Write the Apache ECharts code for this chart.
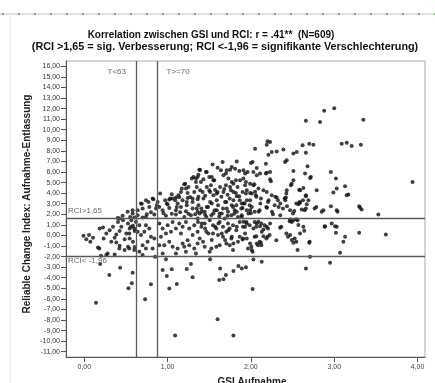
<!DOCTYPE html>
<html><head><meta charset="utf-8">
<script src="https://cdn.jsdelivr.net/npm/echarts@6/dist/echarts.min.js"></script>
<style>html,body{margin:0;padding:0;background:#fff}#c{width:435px;height:383px}</style>
</head><body><div id="c"></div>
<script>
const titleLine1 = 'Korrelation zwischen GSI und RCI: r = .41**  (N=609)';
const titleLine2 = '(RCI >1,65 = sig. Verbesserung; RCI <-1,96 = signifikante Verschlechterung)';
const xName = 'GSI Aufnahme';
const yName = 'Reliable Change Index: Aufnahme-Entlassung';
const xTicks = [0, 1, 2, 3, 4];
const yTicks = [-11,-10,-9,-8,-7,-6,-5,-4,-3,-2,-1,0,1,2,3,4,5,6,7,8,9,10,11,12,13,14,15,16];
const xRange = [-0.22, 4.09];
const yRange = [-11.5, 16.5];
const tCutoffs = [0.62, 0.88];
const tLabels = ['T<63', 'T>=70'];
const rciCutoffs = [1.65, -1.96];
const rciLabels = ['RCI>1,65', 'RCI< -1,96'];

const pointsHigh = [
[2.05,8.2],[2.02,6.94],[2.00,6.85],[1.83,7.0],[1.66,6.94],[1.54,6.7],[1.39,6.2],[1.47,6.0],[1.60,6.4],[1.64,6.16],[1.71,6.16],[1.77,6.47],[1.81,6.3],[1.91,6.16],[1.93,5.85],[1.96,6.0],[2.03,6.0],[2.07,5.69],[1.31,5.53],[1.37,5.75],[1.43,5.31],[1.34,5.38],[1.40,5.06],[1.53,5.53],[1.55,5.22],[1.67,5.69],[1.73,5.38],[1.77,5.06],[1.75,4.58],[1.70,4.75],[1.79,4.9],[1.87,5.22],[1.93,4.75],[1.99,4.9],[1.91,5.38],[1.21,4.9],[1.25,4.58],[1.17,4.43],[1.35,4.58],[1.39,4.27],[1.47,4.58],[1.51,4.11],[1.52,4.75],[1.63,4.58],[1.67,4.11],[1.59,3.96],[1.79,4.11],[1.95,4.27],[2.01,3.96],[1.84,4.58],
[2.66,10.85],[2.83,10.72],[3.00,12.04],[2.88,11.79],[3.35,10.94],[2.19,8.58],[2.23,8.83],[2.20,8.92],[2.25,7.89],[2.21,7.64],[2.31,7.95],[2.39,8.14],[2.62,8.52],[2.70,8.68],[2.75,8.58],[3.09,8.68],[3.15,8.77],[3.21,8.45],[3.32,8.58],[2.51,7.74],[2.55,7.89],[2.66,7.83],[2.43,7.1],[2.41,6.94],[2.18,6.79],[2.07,6.38],[2.11,5.85],[2.19,5.94],[2.23,5.31],[2.24,5.12],[2.51,6.09],[2.65,5.85],[2.71,5.43],[2.68,6.54],[2.96,6.0],[3.02,5.38],[2.03,4.75],[2.09,4.43],[2.15,4.27],[2.19,4.11],[2.49,4.9],[2.51,5.22],[2.43,4.27],[2.59,4.27],[2.63,4.49],[2.79,4.27],[3.03,4.43],[3.13,4.65],[2.99,4.06],[3.94,5.06],[1.86,6.09],[1.75,6.22],[1.38,6.22],[1.46,6.0],[1.50,5.53],[1.56,5.22],[1.70,5.85],[1.82,5.22],[1.94,5.06],[2.18,5.85],[2.23,6.0],[2.72,5.53],[2.48,4.75],[2.04,4.84],[2.58,4.33],[1.42,4.11],[1.50,4.27],[1.60,4.11],[1.76,4.27],[1.82,4.02],[1.86,3.71],[1.94,3.96],[1.99,4.02],[2.06,3.8],[2.12,3.49],[2.25,3.8],[2.31,3.58],[2.42,3.58],[2.66,3.71],[3.15,3.8],[3.17,3.87],
[0.91,3.96],[0.83,3.42],[0.77,3.17],[0.69,3.0],[1.13,3.8],[1.09,3.33],[1.03,3.49],[0.97,3.33],[1.27,3.64],[1.23,3.17],[1.02,3.4],[1.10,3.58],[1.16,4.11],[1.20,4.84],[1.22,4.43],[1.29,5.38],[1.36,5.53],[1.34,5.06],[1.24,4.02],[1.32,4.11],[1.30,3.49],
[2.425,3.96],[2.413,3.33],[2.293,3.65],[2.05,4.12],[2.66,3.8],[2.69,3.33],[2.625,3.33],[2.065,3.65],[1.37,3.65],[1.43,3.49],[1.55,3.80],[1.645,3.65],[1.745,3.49],[2.405,3.49],
[1.05,3.9],[1.14,3.6],[1.45,3.75],[1.57,4.3],[1.68,4.4],[1.72,3.85],[1.83,3.7],[1.90,4.1]
];

const pointsBand = [
[0.68,3.02],[0.74,3.33],[0.82,3.49],[0.88,3.17],[1.00,2.92],[1.06,3.49],[1.12,3.02],[1.18,3.33],[1.24,3.55],[1.30,3.17],[1.36,3.42],[0.64,2.39],[0.70,2.55],[0.78,2.7],[0.86,2.55],[0.94,2.39],[1.02,2.6],[1.10,2.39],[1.16,2.7],[1.22,2.29],[1.30,2.55],[1.36,2.23],[0.58,2.08],[0.52,2.23],[0.46,1.85],[0.40,1.66],
[0.58,2.39],[0.87,2.86],[0.99,3.02],[1.11,2.70],[1.23,2.86],[1.35,2.54],[1.41,2.23],[1.47,2.70],[1.53,3.02],[1.59,2.39],[1.65,2.07],[1.71,2.54],[1.77,2.86],[1.83,2.23],[1.89,1.91],[1.95,2.39],[2.01,2.70],
[1.51,3.17],[1.59,3.33],[1.69,3.17],[1.79,3.33],[1.89,3.02],[1.99,3.33],
[0.64,1.91],[0.74,1.75],[0.84,1.97],[0.98,1.85],[1.10,1.97],[1.20,1.75],[1.28,1.91],[1.36,1.60],
[0.95,2.1],[1.05,2.05],[1.15,2.2],[1.25,2.05],[1.33,2.0],[1.45,1.95],[1.55,2.1],[1.62,1.8],[1.72,1.85],[1.80,2.05],[1.90,2.6],[2.00,2.1],[0.80,2.2],[0.90,2.7],[0.75,2.0],[0.70,1.7],[0.60,1.7],[0.55,1.75],
[0.62,1.28],[0.66,0.97],[0.60,0.66],[0.64,0.34],[0.68,0.03],[0.56,0.82],[0.54,0.19],[0.74,0.97],[0.78,0.66],[0.72,0.34],[0.80,-0.13],[0.76,-0.60],[0.84,-0.29],[0.90,1.13],[0.94,0.66],[0.98,0.19],[0.92,-0.13],[1.00,0.97],[1.06,1.28],[1.10,0.66],[1.04,0.34],[1.14,1.13],[1.18,0.82],[1.16,0.19],[1.22,1.28],[1.26,0.66],[1.32,0.97],[1.36,0.34],[1.30,0.03],[1.24,-0.45],[1.18,-0.76],[1.12,-1.23],[1.20,-1.07],[1.26,-0.92],[1.32,-1.23],[1.36,-0.76],[1.02,-0.60],[0.96,-0.92],[1.06,-1.07],[0.90,-0.92],[0.82,-1.23],[0.74,-1.23],[0.70,-0.92],[0.66,-1.55],[0.60,-1.39],[0.54,-1.23],[0.42,-1.23],[0.28,-1.70],[0.18,-1.23],[0.70,-1.86],[0.94,-1.70],[1.10,-1.70],[1.22,-1.55],[1.34,-1.70],
[-0.01,-0.03],[0.056,0.03],[0.024,-0.35],[0.104,-0.22],[0.072,-0.60],[0.164,-1.14],[0.184,0.66],[0.224,0.75],[0.264,0.19],[0.232,-0.29],[0.304,0.50],[0.344,0.82],[0.404,1.28],[0.444,0.82],[0.424,0.41],[0.384,0.09],[0.364,-0.22],[0.324,-0.60],[0.384,-0.67],[0.424,-0.98],[0.484,-0.35],[0.504,0.19],[0.544,0.66],[0.524,1.13],[0.584,0.91],[0.564,1.44],[0.464,1.44],[0.424,1.60],[0.604,0.41],[0.544,-0.29],[0.584,-0.60],[0.524,-1.07],[0.484,-1.39],[0.604,-1.09],[0.364,-1.80],[0.264,-1.86],[0.20,-1.92],
[1.705,3.17],[1.785,2.70],[1.825,2.86],[1.865,3.33],[1.885,2.54],[1.925,3.02],[1.985,2.86],[2.045,2.23],[2.105,2.39],[2.185,2.70],[2.205,3.17],[2.285,2.86],[2.325,3.33],[2.385,2.54],[2.545,3.02],[2.585,3.17],[2.645,2.39],[2.765,2.54],[2.785,2.70],
[1.37,2.86],[1.405,2.54],[1.385,2.07],[1.445,2.23],[1.485,2.70],[1.465,1.75],[1.525,1.91],[1.565,2.39],[1.605,2.86],[1.625,2.07],[1.665,2.54],[1.685,1.60],[1.725,2.23],[1.765,1.91],[1.805,2.39],[1.845,1.75],[1.865,1.28],[1.365,1.28],[1.405,0.82],[1.445,1.13],[1.505,1.44],[1.545,0.97],[1.585,0.66],[1.625,1.28],[1.665,0.82],[1.705,0.34],[1.725,1.13],[1.745,0.66],[1.785,0.97],[1.765,-0.29],[1.785,-1.39],[1.745,-0.92],[1.705,-0.76],[1.625,-0.92],[1.585,-1.07],[1.525,-1.23],[1.505,-1.55],[1.445,-1.07],[1.425,-0.60],[1.385,-0.29],[1.465,0.34],[1.545,0.19],[1.605,0.03],[1.665,-0.13],[1.825,0.50],[1.905,0.82],[1.945,1.28],[1.985,0.97],[1.865,-0.13],[1.845,-0.60],[1.905,-0.29],
[2.045,1.28],[2.065,0.82],[2.125,1.13],[2.165,0.97],[2.205,0.66],[2.225,0.03],[2.185,-0.29],[2.105,-0.60],[2.085,-0.92],[2.125,-0.92],[2.045,-0.13],[2.005,-1.07],[1.965,-1.23],[2.305,-0.45],[2.365,0.82],[2.425,0.19],[2.445,-0.13],[2.525,-0.29],[2.545,-0.60],[2.705,-0.60],[2.885,0.82],[2.465,1.34],[2.49,1.28],[2.545,1.53],[2.505,2.07],[2.87,2.39],
[1.41,1.13],[1.45,0.66],[1.49,0.19],[1.53,-0.44],[1.57,0.82],[1.61,1.13],[1.65,0.19],[1.69,-0.44],[1.73,0.50],[1.77,-0.13],[1.79,-0.76],[1.83,0.82],[1.93,0.19],[1.95,-0.29],[1.99,-0.76],[2.01,-1.39],[2.03,0.66],[2.07,1.13],
[3.53,1.98],[3.62,0.09],[3.30,0.25],[3.31,2.63],[3.33,2.45],[3.30,2.76],[3.03,2.39],[3.04,2.23],[2.96,2.76],[2.85,2.23],[2.89,0.88],[2.97,1.13],[3.01,0.88],[3.03,0.82],[3.02,0.25],[3.13,-0.13],[3.11,-0.6],[3.07,-1.64],[2.70,-0.7],[2.56,-1.38],[2.63,0.82],[2.64,0.44],[2.57,0.98],[2.59,0.19],[2.47,2.39],[2.51,1.44],[2.47,1.51],[2.56,1.44],[2.52,2.32],[2.61,2.45],[2.67,2.95],[2.66,2.54],[2.57,2.95],[2.59,3.08],
[2.333,2.70],[2.353,1.91],[2.265,2.01],[2.253,2.23],[2.193,2.61],[2.093,2.23],[2.113,3.02],[2.213,3.33],[2.353,3.02],[2.433,2.76],
[2.47,0.03],[2.49,-0.44],[2.51,-0.70],[2.35,0.72],[2.23,1.13],[2.19,0.82],[2.11,0.88],[2.13,0.34],[2.15,0.57],[2.09,1.29],
[2.07,-0.76],[2.12,-0.70],[2.065,-0.07],[2.15,-0.07],[2.20,-0.13],[1.90,-0.38],[2.02,-1.54],
[1.91,1.29],[1.89,1.76],[1.95,1.13],[1.93,0.82],[1.97,2.07],[1.99,2.39],[1.91,3.02],[1.95,3.33]
];

const pointsLow = [
[0.19,-2.7],[0.30,-3.74],[0.43,-3.06],[0.53,-5.0],[0.57,-4.53],[0.58,-3.53],[0.14,-6.36],[0.73,-6.04],[0.80,-4.62],[0.85,-2.02],[0.94,-3.27],[0.98,-2.26],[0.99,-3.84],[1.05,-3.21],[1.02,-5.03],[1.11,-4.6],[1.09,-9.47],[1.23,-3.18],[1.28,-2.71],[1.30,-3.96],[1.51,-2.26],[1.63,-3.12],[1.62,-4.22],[1.67,-4.15],[1.70,-3.75],[1.79,-3.37],[1.85,-2.9],[1.89,-3.12],[1.60,-7.93],[1.79,-9.47],[2.02,-5.07],[2.03,-2.27],[2.13,-2.48],[1.94,-3.02],[2.95,-2.58],[2.71,-2.01],[2.66,-3.14]
];

const fmt = v => v.toFixed(2).replace('.', ',');
const chart = echarts.init(document.getElementById('c'), null, {renderer: 'canvas'});
const allPoints = pointsHigh.concat(pointsBand, pointsLow);
const labelFont = {fontFamily: 'Liberation Sans, Arial, sans-serif', fontSize: 8, color: '#444'};

chart.setOption({
  animation: false,
  backgroundColor: '#fff',
  grid: {left: 66, top: 61, right: 10, bottom: 26, show: true, borderColor: '#a8a8a8', borderWidth: 1},
  xAxis: {
    type: 'value', min: xRange[0], max: xRange[1],
    axisLine: {show: true, onZero: false, lineStyle: {color: '#555', width: 1}},
    axisTick: {show: true, customValues: xTicks, length: 5, lineStyle: {color: '#555'}},
    axisLabel: {customValues: xTicks, formatter: fmt, margin: 7, fontSize: 7, color: '#444', fontFamily: 'Liberation Sans, Arial, sans-serif'},
    splitLine: {show: false}
  },
  yAxis: {
    type: 'value', min: yRange[0], max: yRange[1],
    axisLine: {show: true, onZero: false, lineStyle: {color: '#555', width: 1}},
    axisTick: {show: true, customValues: yTicks, length: 5, lineStyle: {color: '#555'}},
    axisLabel: {customValues: yTicks, formatter: fmt, margin: 6, fontSize: 7, color: '#333', fontFamily: 'Liberation Sans, Arial, sans-serif'},
    splitLine: {show: false}
  },
  series: [
    {
      type: 'scatter', data: allPoints, symbol: 'circle', symbolSize: 4,
      itemStyle: {color: '#111'}, silent: true,
      markLine: {
        silent: true, symbol: 'none', animation: false,
        label: {show: false},
        lineStyle: {color: '#5a5a5a', width: 1.3, type: 'solid'},
        data: [
          {xAxis: tCutoffs[0]}, {xAxis: tCutoffs[1]},
          {yAxis: rciCutoffs[0]}, {yAxis: rciCutoffs[1]}
        ]
      }
    },
    {
      type: 'scatter', symbolSize: 0, silent: true,
      data: [
        {value: [tCutoffs[0], 15.5], label: {position: 'left', distance: 10}, name: tLabels[0]},
        {value: [tCutoffs[1], 15.5], label: {position: 'right', distance: 9}, name: tLabels[1]},
        {value: [xRange[0], rciCutoffs[0]], label: {position: [2, -11]}, name: rciLabels[0]},
        {value: [xRange[0], rciCutoffs[1]], label: {position: [2, 1]}, name: rciLabels[1]}
      ],
      label: Object.assign({show: true, formatter: p => p.name}, labelFont)
    }
  ],
  graphic: [
    {type: 'line', shape: {x1: 0, y1: 14, x2: 435, y2: 14}, style: {stroke: '#c4c4c4', lineWidth: 1}},
    {type: 'line', shape: {x1: 2, y1: 14, x2: 435, y2: 14}, style: {stroke: '#3aa83a', lineWidth: 1.5, lineDash: [2, 14]}},
    {type: 'line', shape: {x1: 10, y1: 14, x2: 10, y2: 383}, style: {stroke: '#e4e4e4', lineWidth: 1}},
    {type: 'text', x: 211, y: 35, style: {text: titleLine1, textAlign: 'center', textVerticalAlign: 'middle', font: 'bold 10px "Liberation Sans", Arial, sans-serif', fill: '#111'}},
    {type: 'text', x: 225, y: 47, style: {text: titleLine2, textAlign: 'center', textVerticalAlign: 'middle', font: 'bold 10.8px "Liberation Sans", Arial, sans-serif', fill: '#111'}},
    {type: 'text', x: 27, y: 204, rotation: Math.PI / 2, style: {text: yName, textAlign: 'center', textVerticalAlign: 'middle', font: 'bold 10px "Liberation Sans", Arial, sans-serif', fill: '#222'}},
    {type: 'text', x: 252, y: 377, style: {text: xName, textAlign: 'center', textVerticalAlign: 'top', font: 'bold 10px "Liberation Sans", Arial, sans-serif', fill: '#222'}}
  ]
});
</script>
</body></html>
